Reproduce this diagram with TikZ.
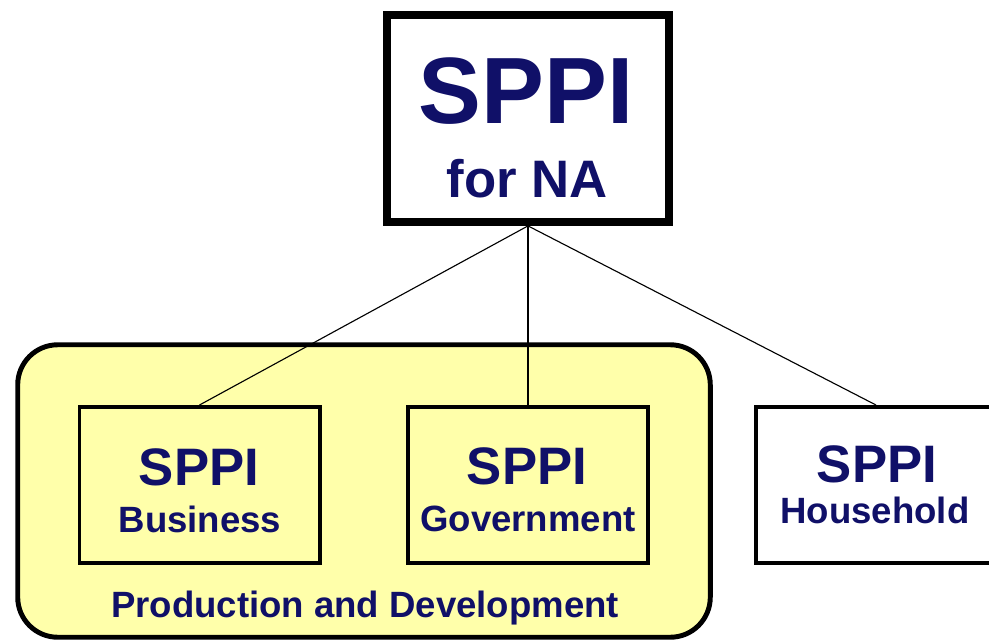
\documentclass[tikz,border=0pt]{standalone}
\usepackage{fontspec}
\setmainfont{Liberation Sans}
\definecolor{sppinavy}{RGB}{16,16,104}
\definecolor{sppiyellow}{RGB}{255,255,170}

\begin{document}
\begin{tikzpicture}[x=0.025cm, y=-0.025cm, thick, font=\bfseries]
    \tikzstyle{box_top} = [draw=black, line width=5.5pt, fill=white, minimum width=7.05cm, minimum height=5.175cm]
    \tikzstyle{box_group} = [draw=black, line width=3.5pt, fill=sppiyellow, rounded corners=1cm, minimum width=17.31cm, minimum height=7.31cm]
    \tikzstyle{box_yellow} = [draw=black, line width=2.8pt, fill=sppiyellow, minimum width=6cm, minimum height=3.9cm]
    \tikzstyle{box_white} = [draw=black, line width=2.8pt, fill=white, minimum width=6cm, minimum height=3.9cm]
    \tikzstyle{line_black} = [black, line width=0.8pt]
    \tikzstyle{text_big} = [draw=none, anchor=base, text=sppinavy, font={\fontsize{67}{67}\selectfont\bfseries}]
    \tikzstyle{text_mid} = [draw=none, anchor=base, text=sppinavy, font={\fontsize{37.5}{37.5}\selectfont\bfseries}]
    \tikzstyle{text_small} = [draw=none, anchor=base, text=sppinavy, font={\fontsize{26}{26}\selectfont\bfseries}]

    \clip (0,0) rectangle (989,640);

    % ---------------------------------------

    \node[box_group] (nGroup) at (364,491) {};
    \node[box_top] (nNA) at (528,118.5) {};
    \node[box_yellow] (nBus) at (199.5,485) {};
    \node[box_yellow] (nGov) at (528,485) {};
    \node[box_white] (nHouse) at (876,485) {};

    \draw[line_black] (nNA.south) edge (nBus.north);
    \draw[line_black] (nNA.south) edge (nGov.north);
    \draw[line_black] (nNA.south) edge (nHouse.north);

    % ---------------------------------------

    \node[text_big] (tNA1) at (526,123) {SPPI};
    \node[text_mid] (tNA2) at (527,197) {for NA};

    \node[text_mid] (tBus1) at (199,485) {SPPI};
    \node[text_small] (tBus2) at (200,532) {Business};

    \node[text_mid] (tGov1) at (527,484) {SPPI};
    \node[text_small] (tGov2) at (528,531) {Government};

    \node[text_mid] (tHouse1) at (877,482) {SPPI};
    \node[text_small] (tHouse2) at (875,523) {Household};

    \node[text_small] (tGroup) at (365,617) {Production and Development};

\end{tikzpicture}
\end{document}
